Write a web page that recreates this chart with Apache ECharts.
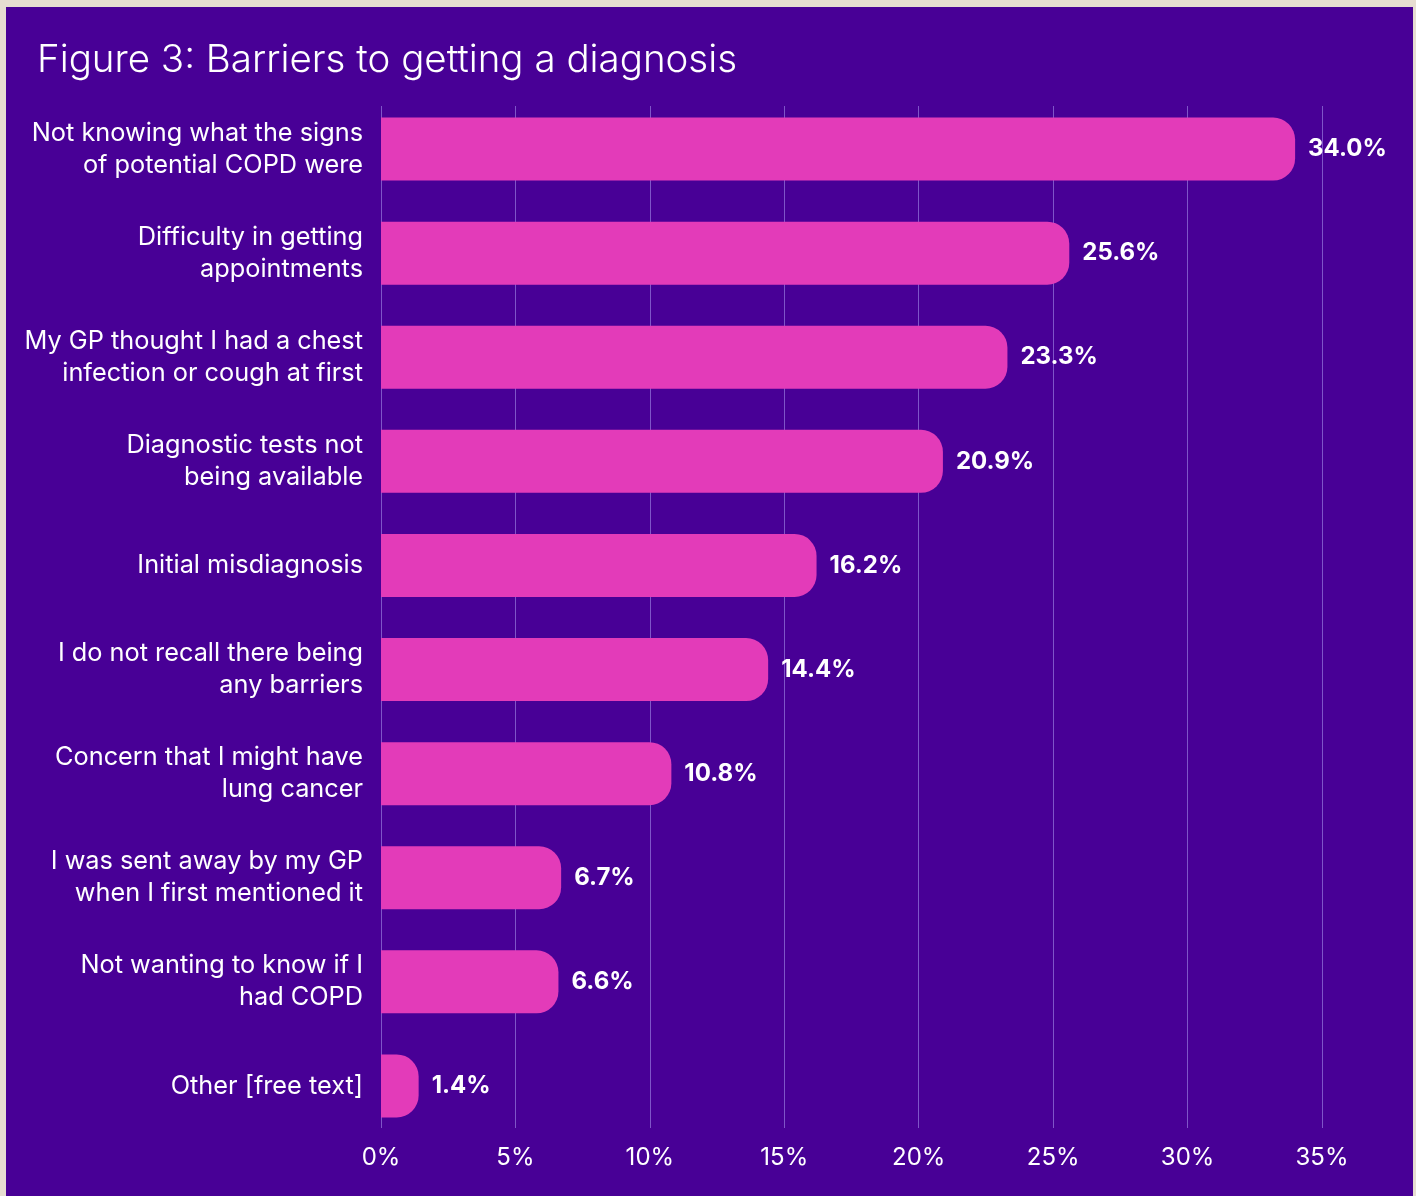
<!DOCTYPE html>
<html><head><meta charset="utf-8">
<script src="https://cdn.jsdelivr.net/npm/echarts@6/dist/echarts.min.js"></script>
<style>html,body{margin:0;padding:0;background:#e6ddd1;}#c{width:1416px;height:1196px;}</style>
</head><body><div id="c"></div>
<script>
const categories = [
  "Not knowing what the signs\nof potential COPD were",
  "Difficulty in getting\nappointments",
  "My GP thought I had a chest\ninfection or cough at first",
  "Diagnostic tests not\nbeing available",
  "Initial misdiagnosis",
  "I do not recall there being\nany barriers",
  "Concern that I might have\nlung cancer",
  "I was sent away by my GP\nwhen I first mentioned it",
  "Not wanting to know if I\nhad COPD",
  "Other [free text]"
];
const values = [34.0, 25.6, 23.3, 20.9, 16.2, 14.4, 10.8, 6.7, 6.6, 1.4];
const titleText = "Figure 3: Barriers to getting a diagnosis";

const chart = echarts.init(document.getElementById('c'));
chart.setOption({
  backgroundColor: '#e6ddd1',
  animation: false,
  graphic: [{type:'rect', left:6, top:7, shape:{width:1407, height:1189}, style:{fill:'#480096'}, z:-10}],
  title: {text: titleText, left: 32, top: 36,
    textStyle:{color:'#ffffff', fontSize:38.5, fontWeight:300, fontFamily:'Inter'}},
  grid: [
    {left:381, right:94, top:97, bottom:58, containLabel:false},
    {left:381, right:94, top:106, bottom:68, containLabel:false}
  ],
  xAxis: [
    {type:'value', gridIndex:0, min:0, max:35, interval:5, show:false,
      splitLine:{show:false}},
    {type:'value', gridIndex:1, min:0, max:35, interval:5,
      axisLabel:{formatter:'{value}%', color:'#ffffff', fontSize:24, fontFamily:'Inter', margin:18},
      splitLine:{show:true, lineStyle:{color:'#7f55c8', width:1}},
      axisLine:{show:false}, axisTick:{show:false}, z:0}
  ],
  yAxis: [
    {type:'category', gridIndex:0, data:categories, inverse:true,
      axisLabel:{color:'#ffffff', fontSize:25.3, fontFamily:'Inter', lineHeight:32, margin:18, align:'right'},
      axisLine:{show:false}, axisTick:{show:false}, splitLine:{show:false}},
    {type:'value', gridIndex:1, show:false, splitLine:{show:false}}
  ],
  series: [{type:'bar', xAxisIndex:0, yAxisIndex:0, data:values, barWidth:63, z:5,
    itemStyle:{color:'#e33bb9', borderRadius:[0,22,22,0]},
    label:{show:true, position:'right', distance:13, formatter: p => p.value.toFixed(1)+'%',
      color:'#ffffff', fontSize:24, fontWeight:'bold', fontFamily:'Inter'}}]
});
</script></body></html>
